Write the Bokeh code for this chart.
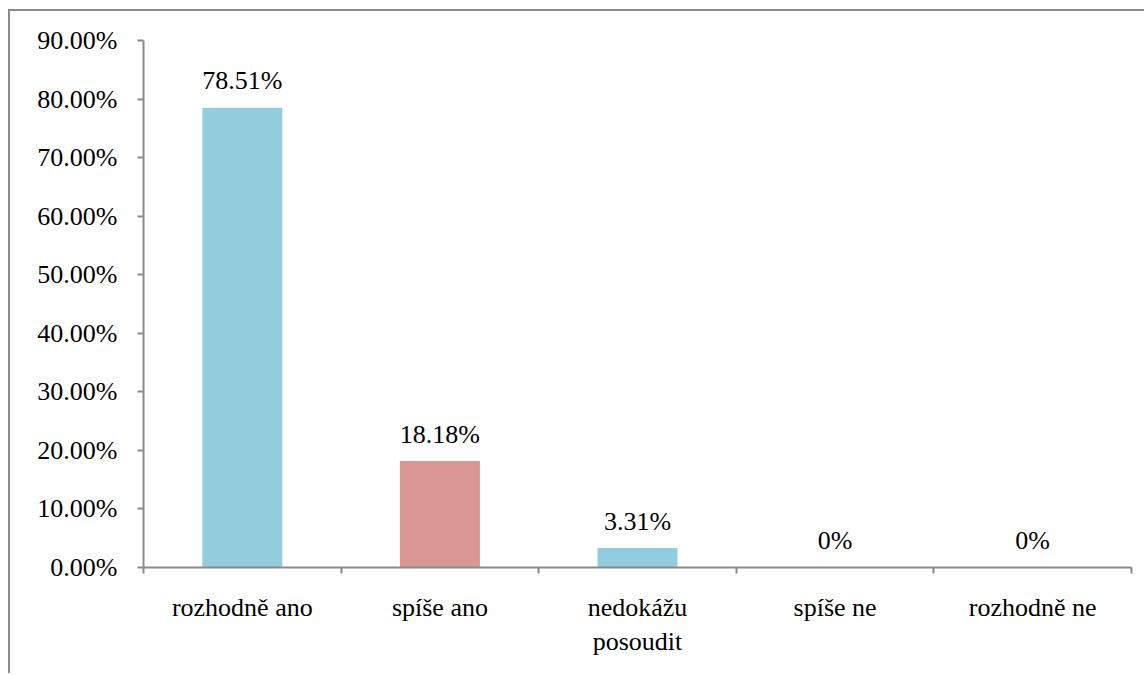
from bokeh.plotting import figure
from bokeh.models import ColumnDataSource, FixedTicker, Range1d
from bokeh.embed import file_html
from bokeh.resources import INLINE
from bokeh.core.properties import value

categories = ["rozhodně ano", "spíše ano", "nedokážu\nposoudit", "spíše ne", "rozhodně ne"]
values = [78.51, 18.18, 3.31, 0.0, 0.0]
colors = ["#93CDDD", "#D99694", "#93CDDD", "#D99694", "#93CDDD"]
y_ticks = [0, 10, 20, 30, 40, 50, 60, 70, 80, 90]

FONT = "Liberation Serif"
FS = "26px"
AXIS_COLOR = "#8A8A8A"

xs = [i + 0.5 for i in range(len(categories))]
labels = ["0%" if v == 0 else f"{v:.2f}%" for v in values]

src = ColumnDataSource(dict(x=xs, top=values, color=colors, label=labels))

p = figure(width=1136, height=664, output_backend="svg", toolbar_location=None,
           x_range=Range1d(0, len(categories)), y_range=Range1d(0, 90),
           min_border_left=133, min_border_right=15, min_border_top=29, min_border_bottom=108)
p.styles = {"margin-left": "8px", "margin-top": "9px",
            "border-left": "2px solid #8A8A8A", "border-top": "2px solid #8A8A8A"}
p.outline_line_color = None
p.grid.visible = False
p.background_fill_color = "white"
p.border_fill_color = "white"

p.vbar(x="x", top="top", bottom=0, width=0.405, color="color", line_color=None, source=src)

p.text(x="x", y="top", text="label", source=src, text_align="center", text_baseline="alphabetic",
       y_offset=-27, text_font=value(FONT), text_font_size=FS, text_color="black")

# x axis: labels at centres, tick marks at category boundaries
xa = p.xaxis[0]
xa.ticker = FixedTicker(ticks=xs, minor_ticks=list(range(len(categories) + 1)))
xa.major_label_overrides = {x: c for x, c in zip(xs, categories)}
xa.major_tick_out = 0
xa.major_tick_in = 0
xa.minor_tick_out = 6
xa.minor_tick_in = 0
xa.minor_tick_line_color = AXIS_COLOR
xa.minor_tick_line_width = 2
xa.axis_line_color = AXIS_COLOR
xa.axis_line_width = 2
xa.major_label_standoff = 19
xa.major_label_text_font = FONT
xa.major_label_text_font_size = FS
xa.major_label_text_color = "black"

ya = p.yaxis[0]
ya.ticker = FixedTicker(ticks=y_ticks, minor_ticks=[])
ya.major_label_overrides = {t: f"{t:.2f}%" for t in y_ticks}
ya.major_tick_out = 6
ya.major_tick_in = 0
ya.major_tick_line_color = AXIS_COLOR
ya.major_tick_line_width = 2
ya.axis_line_color = AXIS_COLOR
ya.axis_line_width = 2
ya.major_label_standoff = 20
ya.major_label_text_font = FONT
ya.major_label_text_font_size = FS
ya.major_label_text_color = "black"

open("out.html", "w").write(file_html(p, INLINE))
